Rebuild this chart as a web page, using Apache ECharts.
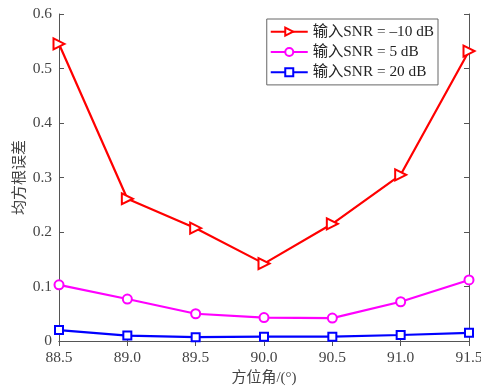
<!DOCTYPE html>
<html>
<head>
<meta charset="utf-8">
<script src="https://cdn.jsdelivr.net/npm/echarts@6/dist/echarts.min.js"></script>
<style>
  html, body { margin: 0; padding: 0; background: #fff; }
  #chart { width: 481px; height: 386px; }
</style>
</head>
<body>
<div id="chart"></div>
<script>
const azimuth = [88.5, 89.0, 89.5, 90.0, 90.5, 91.0, 91.5];
const snrMinus10 = [0.545, 0.261, 0.207, 0.142, 0.215, 0.305, 0.532];
const snr5 = [0.103, 0.077, 0.050, 0.043, 0.042, 0.072, 0.112];
const snr20 = [0.020, 0.010, 0.007, 0.008, 0.008, 0.011, 0.015];
const seriesNames = ['输入SNR = –10 dB', '输入SNR = 5 dB', '输入SNR = 20 dB'];

const chart = echarts.init(document.getElementById('chart'));
const font = '"Liberation Serif", "Noto Sans CJK SC", serif';
const axisColor = '#555';
const textColor = '#444';

const pairs = (ys) => azimuth.map((x, i) => [x, ys[i]]);

const tickIn = { show: true, inside: true, length: 5, lineStyle: { color: axisColor, width: 1 } };

chart.setOption({
  animation: false,
  backgroundColor: '#fff',
  textStyle: { fontFamily: font },
  grid: { left: 59, right: 12, top: 14, bottom: 45, outerBoundsMode: 'none' },
  legend: {
    right: 43,
    top: 19,
    orient: 'vertical',
    itemGap: 5,
    itemWidth: 37,
    itemHeight: 10,
    backgroundColor: '#fff',
    borderColor: '#666',
    borderWidth: 1,
    borderRadius: 0,
    padding: [5, 4, 5, 3],
    textStyle: { fontFamily: font, fontSize: 15.3, color: '#222' },
    data: seriesNames
  },
  xAxis: [{
    type: 'value',
    min: 88.5,
    max: 91.5,
    interval: 0.5,
    name: '方位角/(°)',
    nameLocation: 'middle',
    nameGap: 30,
    nameMoveOverlap: false,
    nameTextStyle: { fontFamily: font, fontSize: 15, color: textColor },
    axisLine: { lineStyle: { color: axisColor } },
    axisTick: tickIn,
    axisLabel: { fontFamily: font, fontSize: 15.5, color: textColor, margin: 9, formatter: v => v.toFixed(1) },
    splitLine: { show: false }
  }, {
    type: 'value',
    position: 'top',
    min: 88.5,
    max: 91.5,
    interval: 0.5,
    axisLine: { show: true, lineStyle: { color: axisColor } },
    axisTick: tickIn,
    axisLabel: { show: false },
    splitLine: { show: false }
  }],
  yAxis: [{
    type: 'value',
    min: 0,
    max: 0.6,
    interval: 0.1,
    name: '均方根误差',
    nameLocation: 'middle',
    nameGap: 31,
    nameMoveOverlap: false,
    nameRotate: 90,
    nameTextStyle: { fontFamily: font, fontSize: 15, color: textColor },
    axisLine: { show: true, lineStyle: { color: axisColor } },
    axisTick: tickIn,
    axisLabel: { fontFamily: font, fontSize: 15.5, color: textColor, margin: 7, formatter: v => v === 0 ? '0' : v.toFixed(1) },
    splitLine: { show: false }
  }, {
    type: 'value',
    position: 'right',
    min: 0,
    max: 0.6,
    interval: 0.1,
    axisLine: { show: true, lineStyle: { color: axisColor } },
    axisTick: tickIn,
    axisLabel: { show: false },
    splitLine: { show: false }
  }],
  series: [{
    name: seriesNames[0],
    type: 'line',
    data: pairs(snrMinus10),
    color: '#ff0000',
    symbol: 'triangle',
    symbolRotate: -90,
    symbolSize: 11,
    lineStyle: { width: 2.2, color: '#ff0000' },
    itemStyle: { color: '#fff', borderColor: '#ff0000', borderWidth: 2 }
  }, {
    name: seriesNames[1],
    type: 'line',
    data: pairs(snr5),
    color: '#ff00ff',
    symbol: 'circle',
    symbolSize: 9,
    lineStyle: { width: 2.2, color: '#ff00ff' },
    itemStyle: { color: '#fff', borderColor: '#ff00ff', borderWidth: 2 }
  }, {
    name: seriesNames[2],
    type: 'line',
    data: pairs(snr20),
    color: '#0000ff',
    symbol: 'rect',
    symbolSize: 8,
    lineStyle: { width: 2.2, color: '#0000ff' },
    itemStyle: { color: '#fff', borderColor: '#0000ff', borderWidth: 2 }
  }]
});
</script>
</body>
</html>
